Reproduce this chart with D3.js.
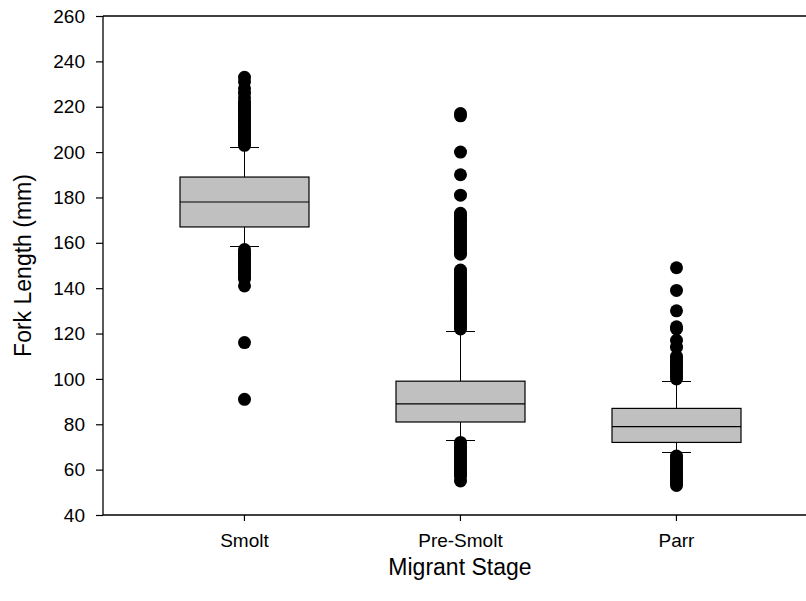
<!DOCTYPE html>
<html>
<head>
<meta charset="utf-8">
<script src="https://cdn.jsdelivr.net/npm/d3@7"></script>
<style>
  html, body { margin: 0; padding: 0; background: #fff; }
  svg { display: block; font-family: "Liberation Sans", Arial, sans-serif; }
</style>
</head>
<body>
<svg id="chart" width="806" height="601"></svg>
<script>
// ---- Data ----
const categories = ["Smolt", "Pre-Smolt", "Parr"];
const q1 =        [167, 81, 72];
const medians =   [178, 89, 79];
const q3 =        [189, 99, 87];
const whiskerLo = [158.5, 73, 67.5];
const whiskerHi = [202, 121, 99];
const outliersSmolt = [203, 204, 205, 206, 207, 208, 209, 210, 211, 212, 213, 214, 215, 216, 217, 218, 219, 220, 221, 222, 224, 226, 228, 231, 233,
                       157, 156, 155, 154, 153, 152, 151, 150, 149, 148, 147, 146, 145, 144, 141, 116, 91];
const outliersPreSmolt = [122, 123, 124, 125, 126, 127, 128, 129, 130, 131, 132, 133, 134, 135, 136, 137, 138, 139, 140, 141, 142, 143, 144, 145, 146, 147, 148,
                          155, 156, 157, 158, 159, 160, 161, 162, 163, 164, 165, 166, 167, 168, 169, 170, 171, 172, 173,
                          181, 190, 200, 216, 217,
                          72, 71, 70, 69, 68, 67, 66, 65, 64, 63, 62, 61, 60, 59, 58, 57, 55];
const outliersParr = [100, 101, 102, 103, 104, 105, 106, 107, 108, 109, 110, 114, 117, 122, 123, 130, 139, 149,
                      66, 65, 64, 63, 62, 61, 60, 59, 58, 57, 56, 55, 54, 53];
const outliers = [outliersSmolt, outliersPreSmolt, outliersParr];
const yTicks = [40, 60, 80, 100, 120, 140, 160, 180, 200, 220, 240, 260];
const xTitle = "Migrant Stage";
const yTitle = "Fork Length (mm)";

// ---- Layout ----
const margin = { left: 103, top: 16, right: 1, bottom: 86 };
const W = 806, H = 601;
const innerW = W - margin.left - margin.right;
const innerH = H - margin.top - margin.bottom;

const svg = d3.select("#chart");
const g = svg.append("g").attr("transform", `translate(${margin.left},${margin.top})`);

const x = d3.scalePoint().domain(categories).range([0, innerW]).padding(0.625).align(0.522);
const y = d3.scaleLinear().domain([40, 260]).range([innerH, 0]);

const boxW = 129;
const capW = 29;
const rows = categories.map((c, i) => ({
  c, q1: q1[i], med: medians[i], q3: q3[i], lo: whiskerLo[i], hi: whiskerHi[i], out: outliers[i]
}));

// whiskers
const wg = g.append("g").attr("stroke", "#000").attr("stroke-width", 1.2).attr("shape-rendering", "crispEdges");
rows.forEach(d => {
  const cx = Math.round(x(d.c)) + 0.5;
  wg.append("line").attr("x1", cx).attr("x2", cx).attr("y1", y(d.hi)).attr("y2", y(d.q3));
  wg.append("line").attr("x1", cx).attr("x2", cx).attr("y1", y(d.q1)).attr("y2", y(d.lo));
  wg.append("line").attr("x1", cx - capW / 2).attr("x2", cx + capW / 2).attr("y1", y(d.hi)).attr("y2", y(d.hi));
  wg.append("line").attr("x1", cx - capW / 2).attr("x2", cx + capW / 2).attr("y1", y(d.lo)).attr("y2", y(d.lo));
});

// boxes
rows.forEach(d => {
  const cx = Math.round(x(d.c)) + 0.5;
  g.append("rect")
    .attr("x", cx - boxW / 2).attr("width", boxW)
    .attr("y", y(d.q3)).attr("height", y(d.q1) - y(d.q3))
    .attr("fill", "#c0c0c0").attr("stroke", "#000").attr("stroke-width", 1.2);
  g.append("line")
    .attr("x1", cx - boxW / 2).attr("x2", cx + boxW / 2)
    .attr("y1", y(d.med)).attr("y2", y(d.med))
    .attr("stroke", "#000").attr("stroke-width", 1.2);
});

// outliers
rows.forEach(d => {
  const cx = Math.round(x(d.c)) + 0.5;
  g.append("g").selectAll("circle").data(d.out).join("circle")
    .attr("cx", cx).attr("cy", v => y(v)).attr("r", 6.5).attr("fill", "#000");
});

// axes
const yAxis = g.append("g").call(d3.axisLeft(y).tickValues(yTicks).tickSize(7).tickPadding(11).tickFormat(d3.format("d")));
const xAxis = g.append("g").attr("transform", `translate(0,${innerH})`)
  .call(d3.axisBottom(x).tickSize(6).tickPadding(13));
[yAxis, xAxis].forEach(a => {
  a.select(".domain").remove();
  a.selectAll("line").attr("stroke", "#000").attr("stroke-width", 1.2);
  a.selectAll("text").attr("fill", "#000").style("font-size", "19px").style("font-family", "'Liberation Sans', Arial, sans-serif");
});
// frame lines (left, bottom, top)
const fg = g.append("g").attr("stroke", "#000").attr("stroke-width", 1.3).attr("fill", "none");
fg.append("line").attr("x1", 0).attr("x2", 0).attr("y1", 0).attr("y2", innerH);
fg.append("line").attr("x1", 0).attr("x2", innerW + 1).attr("y1", innerH).attr("y2", innerH);
fg.append("line").attr("x1", 0).attr("x2", innerW + 1).attr("y1", 0).attr("y2", 0);

// titles
svg.append("text")
  .attr("x", margin.left + x(categories[1])).attr("y", 575)
  .attr("text-anchor", "middle").style("font-size", "23px").attr("fill", "#000")
  .text(xTitle);
svg.append("text")
  .attr("transform", `translate(31,${margin.top + innerH / 2}) rotate(-90)`)
  .attr("text-anchor", "middle").style("font-size", "23px").attr("fill", "#000")
  .text(yTitle);
</script>
</body>
</html>
